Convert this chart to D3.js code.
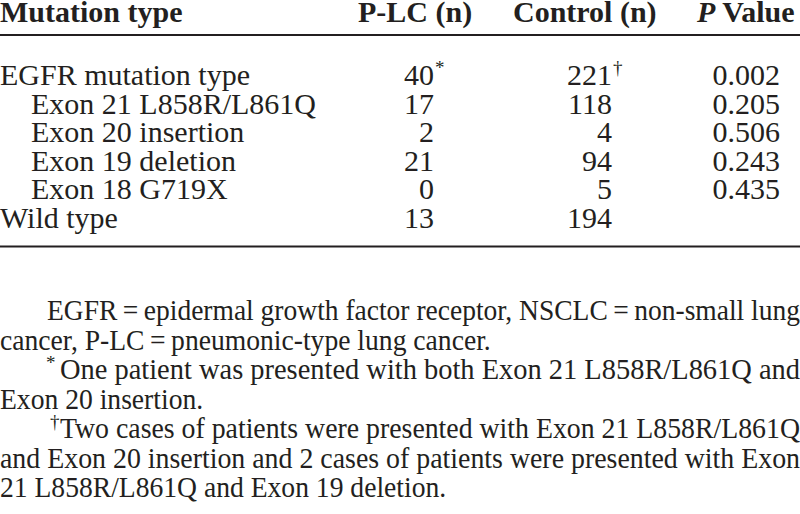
<!DOCTYPE html>
<html><head><meta charset="utf-8">
<script src="https://cdn.jsdelivr.net/npm/d3@7"></script>
<style>
html,body{margin:0;padding:0;background:#fff;}
svg text{font-family:"Liberation Serif","Times New Roman",serif;fill:#231f20;}
</style></head>
<body><svg id="c" width="800" height="514"></svg>
<script>
// ---- data ----
const headers = ["Mutation type", "P-LC (n)", "Control (n)", "P Value"];
const categories = ["EGFR mutation type", "Exon 21 L858R/L861Q", "Exon 20 insertion", "Exon 19 deletion", "Exon 18 G719X", "Wild type"];
const subLevel = [0, 1, 1, 1, 1, 0];
const plcCounts = [40, 17, 2, 21, 0, 13];
const plcMarks = ["*", "", "", "", "", ""];
const controlCounts = [221, 118, 4, 94, 5, 194];
const controlMarks = ["\u2020", "", "", "", "", ""];
const pValues = ["0.002", "0.205", "0.506", "0.243", "0.435", ""];
const footMarks = ["", "", "*", "", "\u2020", "", ""];
const footLines = [
  "EGFR\u2009=\u2009epidermal growth factor receptor, NSCLC\u2009=\u2009non-small lung",
  "cancer, P-LC\u2009=\u2009pneumonic-type lung cancer.",
  "One patient was presented with both Exon 21 L858R/L861Q and",
  "Exon 20 insertion.",
  "Two cases of patients were presented with Exon 21 L858R/L861Q",
  "and Exon 20 insertion and 2 cases of patients were presented with Exon",
  "21 L858R/L861Q and Exon 19 deletion."
];
const footJustify = [true, false, true, false, true, true, false];
const footParaStart = [true, false, true, false, true, false, false];

// ---- layout ----
const W = 800;
const svg = d3.select("#c");
const FS = 30;

const colX = d3.scaleOrdinal().domain(headers).range([0, 358, 513, 697]);
const valueRight = d3.scaleOrdinal().domain(["plc", "control", "p"]).range([434, 612, 780]);
const rowY = d3.scalePoint().domain(categories).range([85, 228]);
const footY = d3.scalePoint().domain(d3.range(footLines.length)).range([320, 497]);

// header
const hg = svg.append("g");
headers.forEach((h) => {
  const t = hg.append("text").attr("x", colX(h)).attr("y", 22)
    .attr("font-size", FS).attr("font-weight", "bold");
  if (h === "P Value") {
    t.append("tspan").attr("font-style", "italic").text("P");
    t.append("tspan").text(" Value");
  } else t.text(h);
});
svg.append("line").attr("x1", 0).attr("x2", W).attr("y1", 35).attr("y2", 35)
  .attr("stroke", "#231f20").attr("stroke-width", 2);

// rows
const rows = svg.append("g").selectAll("g").data(categories).join("g")
  .attr("transform", d => `translate(0,${rowY(d)})`);
rows.append("text").attr("x", (d, i) => subLevel[i] ? 31 : 0).attr("font-size", FS).text(d => d);

function numCell(sel, key, vals, marks) {
  sel.each(function(d, i) {
    const g = d3.select(this);
    g.append("text").attr("x", valueRight(key)).attr("text-anchor", "end")
      .attr("font-size", FS).text(vals[i]);
    if (marks && marks[i]) {
      g.append("text").attr("x", valueRight(key) + 1).attr("y", -11)
        .attr("font-size", 19).text(marks[i]);
    }
  });
}
numCell(rows, "plc", plcCounts, plcMarks);
numCell(rows, "control", controlCounts, controlMarks);
numCell(rows, "p", pValues, null);

svg.append("line").attr("x1", 0).attr("x2", W).attr("y1", 246.5).attr("y2", 246.5)
  .attr("stroke", "#231f20").attr("stroke-width", 2);

// footnotes
const squeeze = 0.92;
footLines.forEach((line, i) => {
  const y = footY(i);
  let x0 = 0;
  if (footParaStart[i]) {
    if (footMarks[i]) {
      svg.append("text").attr("x", footMarks[i] === "*" ? 46 : 50).attr("y", y - 10)
        .attr("font-size", 19).text(footMarks[i]);
      x0 = 60;
    } else x0 = 47;
  }
  const t = svg.append("text").attr("x", x0).attr("y", y).attr("font-size", FS).text(line);
  const natural = t.node().getComputedTextLength();
  const target = footJustify[i] ? (W - x0) : natural * squeeze;
  t.attr("textLength", target).attr("lengthAdjust", "spacingAndGlyphs");
});
</script></body></html>
